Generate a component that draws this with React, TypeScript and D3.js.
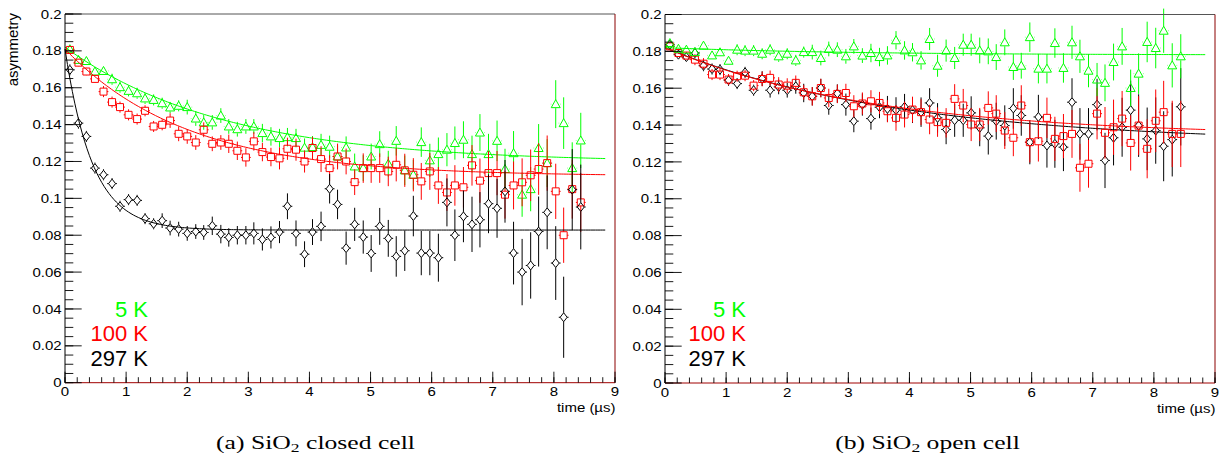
import React from "react";
import * as d3 from "d3";

// bin centres in microseconds, shared by every series
const binTimes = [
  0.08, 0.22, 0.35, 0.49, 0.63, 0.77, 0.9, 1.04, 1.18, 1.31,
  1.45, 1.59, 1.72, 1.86, 2.0, 2.14, 2.27, 2.41, 2.55, 2.68,
  2.82, 2.96, 3.09, 3.23, 3.37, 3.51, 3.64, 3.78, 3.92, 4.05,
  4.19, 4.33, 4.46, 4.6, 4.74, 4.88, 5.01, 5.15, 5.29, 5.42,
  5.56, 5.7, 5.83, 5.97, 6.11, 6.25, 6.38, 6.52, 6.66, 6.79,
  6.93, 7.07, 7.2, 7.34, 7.48, 7.62, 7.75, 7.89, 8.03, 8.16,
  8.3, 8.44,
];

// (a) SiO2 closed cell
const closed5K = [
  0.1809, 0.1751, 0.1745, 0.1688, 0.1691, 0.1646, 0.1603, 0.1583, 0.157, 0.1542,
  0.1534, 0.1516, 0.1493, 0.1502, 0.1495, 0.1433, 0.1412, 0.1412, 0.1449, 0.139,
  0.1375, 0.139, 0.139, 0.1354, 0.1336, 0.1327, 0.1332, 0.1327, 0.1275, 0.1278,
  0.129, 0.128, 0.1227, 0.1276, 0.1173, 0.1164, 0.1227, 0.1294, 0.1188, 0.1312,
  0.1152, 0.1128, 0.1305, 0.1206, 0.124, 0.1264, 0.13, 0.1318, 0.124, 0.1357,
  0.124, 0.1312, 0.1159, 0.1245, 0.102, 0.105, 0.1273, 0.1191, 0.1511, 0.1408,
  0.1164, 0.1314,
];
const closed100K = [
  0.1805, 0.1736, 0.1688, 0.1648, 0.1579, 0.1522, 0.1495, 0.1453, 0.143, 0.1475,
  0.139, 0.1399, 0.1422, 0.135, 0.1336, 0.1303, 0.1372, 0.1296, 0.1303, 0.1296,
  0.1258, 0.1222, 0.1309, 0.1251, 0.1224, 0.1217, 0.1269, 0.1264, 0.12, 0.1273,
  0.1213, 0.1164, 0.1227, 0.12, 0.1088, 0.1164, 0.1164, 0.1164, 0.1146, 0.1182,
  0.1152, 0.1128, 0.1092, 0.1146, 0.107, 0.1032, 0.107, 0.106, 0.1179, 0.1096,
  0.1137, 0.1137, 0.102, 0.107, 0.1087, 0.1125, 0.1159, 0.1191, 0.1038, 0.08,
  0.105, 0.0978,
];
const closed297K = [
  0.1697, 0.1408, 0.1336, 0.1164, 0.1128, 0.108, 0.0957, 0.0993, 0.0989, 0.089,
  0.0862, 0.0879, 0.0839, 0.0833, 0.081, 0.082, 0.0815, 0.0851, 0.0806, 0.0788,
  0.08, 0.08, 0.081, 0.0777, 0.0788, 0.0817, 0.0957, 0.081, 0.0697, 0.0817,
  0.0848, 0.1052, 0.0967, 0.073, 0.0859, 0.079, 0.0701, 0.0848, 0.0783, 0.0685,
  0.0716, 0.0904, 0.0703, 0.0703, 0.0678, 0.0978, 0.08, 0.0902, 0.0859, 0.0884,
  0.0971, 0.0946, 0.1038, 0.0703, 0.06, 0.0636, 0.082, 0.0924, 0.0649, 0.0355,
  0.1047, 0.0953,
];
// errors in units of 0.001
const closed5KErr = [
  2, 2, 2, 2, 2, 3, 3, 3, 3, 3, 3, 3, 3, 3, 4, 4, 4, 4, 4, 4,
  4, 4, 4, 5, 5, 5, 5, 5, 5, 6, 6, 6, 6, 6, 7, 7, 7, 7, 7, 8,
  8, 8, 8, 9, 9, 9, 9, 10, 10, 10, 11, 11, 11, 12, 12, 12, 13, 13, 13, 14,
  14, 15,
];
const closed100KErr = [
  2, 2, 2, 2, 3, 3, 3, 3, 3, 3, 3, 3, 4, 4, 4, 4, 4, 4, 4, 5,
  5, 5, 5, 5, 5, 6, 6, 6, 6, 6, 7, 7, 7, 7, 7, 8, 8, 8, 8, 9,
  9, 9, 10, 10, 10, 10, 11, 11, 11, 12, 12, 12, 13, 13, 13, 14, 14, 15, 15, 15,
  16, 16,
];
const closed297KErr = [
  3, 3, 3, 3, 3, 3, 3, 3, 3, 3, 3, 4, 4, 4, 4, 4, 4, 5, 5, 5,
  5, 5, 6, 6, 6, 6, 7, 7, 7, 7, 8, 8, 8, 9, 9, 9, 10, 10, 10, 11,
  11, 11, 12, 12, 13, 13, 14, 14, 15, 15, 16, 16, 17, 17, 18, 18, 19, 20, 20, 22,
  22, 23,
];
// fit parameters: [baseline, amplitude, relaxation time (us)]
const closedFit5K = [0.1195, 0.0625, 2.6];
const closedFit100K = [0.112, 0.069, 2.0];
const closedFit297K = [0.0828, 0.0982, 0.45];

// (b) SiO2 open cell
const open5K = [
  0.1845, 0.1814, 0.1809, 0.1796, 0.1831, 0.1778, 0.1795, 0.1749, 0.1809, 0.1804,
  0.1804, 0.1787, 0.1809, 0.1773, 0.1787, 0.1751, 0.1796, 0.1796, 0.1764, 0.1813,
  0.1809, 0.1773, 0.1827, 0.1777, 0.1791, 0.1769, 0.1778, 0.186, 0.1805, 0.1795,
  0.1751, 0.1867, 0.1722, 0.1804, 0.1764, 0.1836, 0.1836, 0.1805, 0.18, 0.1769,
  0.1849, 0.1715, 0.1722, 0.1877, 0.1706, 0.1706, 0.1845, 0.171, 0.1849, 0.1773,
  0.1695, 0.1647, 0.1629, 0.1742, 0.1827, 0.1601, 0.1679, 0.1851, 0.1818, 0.1912,
  0.1724, 0.1773,
];
const open100K = [
  0.1827, 0.1791, 0.1777, 0.1755, 0.1733, 0.1674, 0.1674, 0.1647, 0.1665, 0.1668,
  0.1614, 0.165, 0.1656, 0.162, 0.1614, 0.1629, 0.1578, 0.1556, 0.1601, 0.1547,
  0.1569, 0.1574, 0.1502, 0.1517, 0.1529, 0.152, 0.1475, 0.1439, 0.1457, 0.1484,
  0.147, 0.143, 0.1416, 0.1412, 0.1542, 0.1506, 0.1403, 0.1403, 0.1493, 0.1462,
  0.137, 0.1331, 0.1506, 0.1307, 0.1312, 0.1439, 0.1325, 0.134, 0.1352, 0.1168,
  0.119, 0.1462, 0.1358, 0.1388, 0.1435, 0.1303, 0.1397, 0.1271, 0.1423, 0.147,
  0.1352, 0.1352,
];
const open297K = [
  0.1836, 0.1782, 0.1769, 0.1791, 0.1722, 0.1704, 0.1701, 0.1643, 0.1625, 0.1686,
  0.1589, 0.1652, 0.1589, 0.1607, 0.1589, 0.161, 0.1574, 0.1556, 0.1601, 0.1506,
  0.1571, 0.1511, 0.1421, 0.1511, 0.1435, 0.1497, 0.1488, 0.1481, 0.1499, 0.1481,
  0.147, 0.152, 0.1439, 0.1376, 0.1426, 0.1426, 0.1466, 0.1385, 0.134, 0.1421,
  0.1397, 0.149, 0.1452, 0.1307, 0.1444, 0.1289, 0.1298, 0.128, 0.1524, 0.1352,
  0.1352, 0.1511, 0.1208, 0.1331, 0.1388, 0.1481, 0.1397, 0.1325, 0.137, 0.1285,
  0.1321, 0.1499,
];
const open5KErr = [
  2, 2, 2, 2, 2, 2, 2, 2, 3, 3, 3, 3, 3, 3, 3, 3, 3, 4, 4, 4,
  4, 4, 4, 4, 5, 5, 5, 5, 5, 5, 5, 6, 6, 6, 6, 6, 6, 7, 7, 7,
  7, 7, 7, 8, 8, 8, 8, 8, 9, 9, 9, 9, 10, 10, 10, 10, 11, 11, 11, 12,
  12, 12,
];
const open100KErr = [
  2, 2, 2, 3, 3, 3, 3, 3, 3, 3, 3, 4, 4, 4, 4, 4, 4, 5, 5, 5,
  5, 5, 6, 6, 6, 6, 6, 7, 7, 7, 7, 8, 8, 8, 8, 9, 9, 9, 9, 10,
  10, 10, 11, 11, 11, 11, 12, 12, 13, 13, 13, 14, 14, 15, 15, 15, 16, 16, 17, 17,
  18, 18,
];
const open297KErr = [
  2, 2, 2, 3, 3, 3, 3, 3, 3, 3, 3, 4, 4, 4, 4, 4, 5, 5, 5, 5,
  5, 6, 6, 6, 6, 6, 7, 7, 7, 7, 8, 8, 8, 8, 9, 9, 9, 10, 10, 10,
  11, 11, 11, 12, 12, 12, 13, 13, 13, 14, 14, 14, 15, 15, 16, 16, 17, 17, 18, 19,
  20, 21,
];
const openFit5K = [0.178, 0.004, 3.0];
const openFit100K = [0.134, 0.048, 3.4];
const openFit297K = [0.13, 0.052, 3.8];

const legendLabels = ["5 K", "100 K", "297 K"];
const captions = ["(a) SiO|2| closed cell", "(b) SiO|2| open cell"];

const ERR_UNIT = 0.001;
const X_HALF = 0.08; // horizontal error bar, us
const GREEN = "#00ff00";
const RED = "#ff0000";
const BLACK = "#000000";
const SANS = "'Liberation Sans', Arial, sans-serif";
const SERIF = "'Liberation Serif', 'Times New Roman', serif";

const shapes = {
  triangle: {
    hw: 4.5,
    hh: 4,
    d: (cx, cy) => `M${cx},${cy - 4.5}L${cx + 4.5},${cy + 3.5}L${cx - 4.5},${cy + 3.5}Z`,
  },
  square: {
    hw: 3.5,
    hh: 3.5,
    d: (cx, cy) => `M${cx - 3.5},${cy - 3.5}h7v7h-7Z`,
  },
  diamond: {
    hw: 3.5,
    hh: 4.5,
    d: (cx, cy) => `M${cx},${cy - 4.5}L${cx + 3.5},${cy}L${cx},${cy + 4.5}L${cx - 3.5},${cy}Z`,
  },
};

const makeSeries = (values, errors, fit, color, shape) => ({ values, errors, fit, color, shape });

const closedSeries = [
  makeSeries(closed5K, closed5KErr, closedFit5K, GREEN, "triangle"),
  makeSeries(closed100K, closed100KErr, closedFit100K, RED, "square"),
  makeSeries(closed297K, closed297KErr, closedFit297K, BLACK, "diamond"),
];
const openSeries = [
  makeSeries(open297K, open297KErr, openFit297K, BLACK, "diamond"),
  makeSeries(open100K, open100KErr, openFit100K, RED, "square"),
  makeSeries(open5K, open5KErr, openFit5K, GREEN, "triangle"),
];
const legendColors = [GREEN, RED, BLACK];

function Series({ s, x, y }) {
  const shp = shapes[s.shape];
  const segs = [];
  const marks = [];
  s.values.forEach((v, i) => {
    const t = binTimes[i];
    const e = s.errors[i] * ERR_UNIT;
    const cx = x(t);
    const cy = y(v);
    const yHi = y(v + e);
    const yLo = y(v - e);
    const xL = x(t - X_HALF);
    const xR = x(t + X_HALF);
    if (cy - shp.hh > yHi) segs.push(`M${cx},${yHi}V${cy - shp.hh}`);
    if (yLo > cy + shp.hh) segs.push(`M${cx},${cy + shp.hh}V${yLo}`);
    if (cx - shp.hw > xL) segs.push(`M${xL},${cy}H${cx - shp.hw}`);
    if (xR > cx + shp.hw) segs.push(`M${cx + shp.hw},${cy}H${xR}`);
    marks.push(shp.d(cx, cy));
  });
  const [base, amp, tau] = s.fit;
  const line = d3
    .line()
    .x((t) => x(t))
    .y((t) => y(base + amp * Math.exp(-t / tau)));
  const ts = d3.range(0, 8.86, 0.04);
  return (
    <g>
      <path d={segs.join("")} stroke={s.color} strokeWidth={1} fill="none" />
      <path d={marks.join("")} stroke={s.color} strokeWidth={1} fill="none" />
      <path d={line(ts)} stroke={s.color} strokeWidth={1} fill="none" />
    </g>
  );
}

function Panel({ left, right, top, bottom, series, legendRight, yTitle, caption, captionX }) {
  const x = d3.scaleLinear().domain([0, 9]).range([left, right]);
  const y = d3.scaleLinear().domain([0, 0.2]).range([bottom, top]);
  const yMajor = y.ticks(10);
  const yMinor = d3.range(0, 0.2001, 0.005);
  const xMajor = x.ticks(9);
  const xMinor = d3.range(0, 9.001, 0.2);
  const fmt = (d) => String(+d.toFixed(3));
  const [capA, capSub, capB] = caption.split("|");
  return (
    <g>
      {series.map((s, i) => (
        <Series key={i} s={s} x={x} y={y} />
      ))}
      {/* frame */}
      <line x1={left} x2={right} y1={top} y2={top} stroke="#555" />
      <line x1={right} x2={right} y1={top} y2={bottom} stroke="#8b0000" />
      <line x1={left} x2={right} y1={bottom} y2={bottom} stroke="#a00000" />
      <line x1={left} x2={left} y1={top} y2={bottom} stroke="#000" />
      {/* y axis */}
      {yMinor.map((d, i) => (
        <line key={"ym" + i} x1={left} x2={left + 8.3} y1={y(d)} y2={y(d)} stroke="#000" strokeWidth={0.9} />
      ))}
      {yMajor.map((d, i) => (
        <g key={"yM" + i}>
          <line x1={left} x2={left + 16.7} y1={y(d)} y2={y(d)} stroke="#000" strokeWidth={0.9} />
          <text
            transform={`translate(${left - 3.3},${y(d) + 4.6}) scale(1,0.87)`}
            textAnchor="end"
            fontFamily={SANS}
            fontSize={15}
          >
            {fmt(d)}
          </text>
        </g>
      ))}
      {/* x axis */}
      {xMinor.map((d, i) => (
        <line key={"xm" + i} x1={x(d)} x2={x(d)} y1={bottom} y2={bottom - 5.5} stroke="#000" strokeWidth={0.9} />
      ))}
      {xMajor.map((d, i) => (
        <g key={"xM" + i}>
          <line x1={x(d)} x2={x(d)} y1={bottom} y2={bottom - 11} stroke="#000" strokeWidth={0.9} />
          <text
            transform={`translate(${x(d)},${bottom + 13.5}) scale(1,0.87)`}
            textAnchor="middle"
            fontFamily={SANS}
            fontSize={15}
          >
            {d}
          </text>
        </g>
      ))}
      <text
        transform={`translate(${right + 0.5},${bottom + 29.5}) scale(1,0.87)`}
        textAnchor="end"
        fontFamily={SANS}
        fontSize={15}
      >
        time (µs)
      </text>
      {yTitle && (
        <text
          transform={`translate(18,${top - 1}) rotate(-90)`}
          textAnchor="end"
          fontFamily={SANS}
          fontSize={15}
        >
          {yTitle}
        </text>
      )}
      {legendLabels.map((lab, i) => (
        <text
          key={lab}
          x={legendRight}
          y={316.7 + i * 24.7}
          textAnchor="end"
          fontFamily={SANS}
          fontSize={22}
          fill={legendColors[i]}
        >
          {lab}
        </text>
      ))}
      <text
        transform={`translate(${captionX},448.5) scale(1.35,1)`}
        textAnchor="middle"
        fontFamily={SERIF}
        fontSize={19}
      >
        {capA}
        <tspan fontSize={13} dy={3.5}>
          {capSub}
        </tspan>
        <tspan dy={-3.5}>{capB}</tspan>
      </text>
    </g>
  );
}

export default function App() {
  return (
    <svg
      width={1222}
      height={458}
      style={{ position: "absolute", left: 0, top: 0, background: "#fff" }}
    >
      <rect width={1222} height={458} fill="#fff" />
      <Panel
        left={65}
        right={615}
        top={14}
        bottom={382.7}
        series={closedSeries}
        legendRight={148}
        yTitle="asymmetry"
        caption={captions[0]}
        captionX={315.5}
      />
      <Panel
        left={665}
        right={1215}
        top={14.5}
        bottom={383}
        series={openSeries}
        legendRight={746}
        caption={captions[1]}
        captionX={927.5}
      />
    </svg>
  );
}
